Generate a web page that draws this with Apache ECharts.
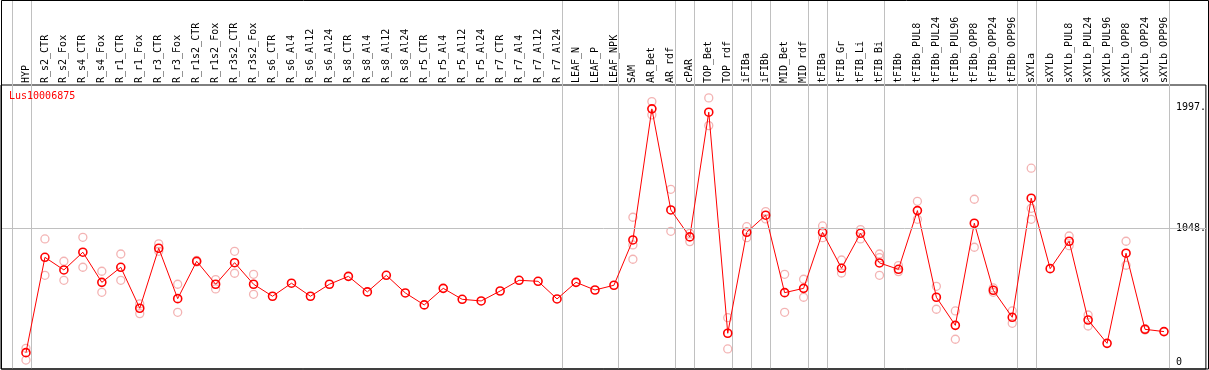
<!DOCTYPE html>
<html>
<head>
<meta charset="utf-8">
<script src="https://cdn.jsdelivr.net/npm/echarts@6/dist/echarts.min.js"></script>
<style>
html,body{margin:0;padding:0;background:#fff;}
#chart{width:1209px;height:370px;}
</style>
</head>
<body>
<div id="chart"></div>
<script>
const geneName = 'Lus10006875';
const categories = ['HYP','R_s2_CTR','R_s2_Fox','R_s4_CTR','R_s4_Fox','R_r1_CTR','R_r1_Fox','R_r3_CTR','R_r3_Fox','R_r1s2_CTR','R_r1s2_Fox','R_r3s2_CTR','R_r3s2_Fox','R_s6_CTR','R_s6_Al4','R_s6_Al12','R_s6_Al24','R_s8_CTR','R_s8_Al4','R_s8_Al12','R_s8_Al24','R_r5_CTR','R_r5_Al4','R_r5_Al12','R_r5_Al24','R_r7_CTR','R_r7_Al4','R_r7_Al12','R_r7_Al24','LEAF_N','LEAF_P','LEAF_NPK','SAM','AR_Bet','AR_rdf','cPAR','TOP_Bet','TOP_rdf','iFIBa','iFIBb','MID_Bet','MID_rdf','tFIBa','tFIB_Gr','tFIB_Li','tFIB_Bi','tFIBb','tFIBb_PUL8','tFIBb_PUL24','tFIBb_PUL96','tFIBb_OPP8','tFIBb_OPP24','tFIBb_OPP96','sXYLa','sXYLb','sXYLb_PUL8','sXYLb_PUL24','sXYLb_PUL96','sXYLb_OPP8','sXYLb_OPP24','sXYLb_OPP96'];
const meanValues = [73,820,721,860,624,742,421,891,496,789,609,778,609,515,617,515,609,671,549,679,541,447,577,491,478,556,640,632,494,624,564,601,956,1983,1191,980,1957,225,1016,1150,543,577,1016,734,1008,776,726,1186,507,287,1087,562,350,1283,731,946,329,146,852,256,238];
const rep1 = [107,964,789,977,711,846,455,925,609,795,645,867,687,null,null,null,null,null,null,null,null,null,null,null,null,null,null,null,null,null,null,null,1134,2040,1353,1008,2069,347,1060,1178,687,648,1066,799,1037,846,755,1259,593,400,1275,580,400,1518,null,987,368,null,946,262,null];
const rep2 = [15,679,640,742,546,640,379,867,389,783,572,695,530,null,null,null,null,null,null,null,null,null,null,null,null,null,null,null,null,null,null,null,805,1936,1024,943,1852,102,974,1121,389,507,974,697,964,679,708,1118,413,178,899,546,303,1204,null,911,282,null,758,250,null];
const rep3 = [null,null,null,null,null,null,null,null,null,null,null,null,null,null,null,null,null,null,null,null,null,null,null,null,null,null,null,null,null,null,null,null,917,null,null,null,null,null,null,null,null,null,null,null,null,817,null,null,null,null,null,null,null,1118,null,null,null,null,null,null,null];
const groupEnds = [-1,0,28,31,34,35,37,38,39,41,42,45,52,53,60];
const yTickValues = [0,1048,1997];
const yTickLabels = ['0','1048.','1997.'];
const gridLineValue = 1048;

const sepOffset = 0.24;
const FONT = 'DejaVu Sans Mono';
const chart = echarts.init(document.getElementById('chart'));

function pts(arr){ const out=[]; arr.forEach((v,i)=>{ if(v!==null) out.push([i,v]); }); return out; }
const repPoints = pts(rep1).concat(pts(rep2), pts(rep3));

chart.setOption({
  animation:false,
  backgroundColor:'#fff',
  title:{text:geneName,left:9,top:91,padding:0,textStyle:{color:'#ff0000',fontSize:10,fontWeight:'normal',fontFamily:FONT}},
  graphic:[{type:'rect',shape:{x:1.5,y:0.5,width:1207,height:368.5},style:{fill:'none',stroke:'#000',lineWidth:1},z:100,silent:true}],
  grid:{left:1,right:1,top:85,bottom:1,show:true,borderColor:'#000',borderWidth:1,backgroundColor:'transparent'},
  xAxis:{type:'value',position:'top',min:-1.3158,max:62.21,
    axisLine:{show:false},axisTick:{show:false},splitLine:{show:false},
    axisLabel:{customValues:categories.map((c,i)=>i),formatter:v=>categories[Math.round(v)],rotate:90,margin:2,
      fontFamily:FONT,fontSize:10,color:'#000'}},
  yAxis:{type:'value',position:'right',min:-55,max:2170,
    axisLine:{show:false},axisTick:{show:false},splitLine:{show:false},
    axisLabel:{inside:true,customValues:yTickValues,formatter:v=>yTickLabels[yTickValues.indexOf(v)],
      align:'left',margin:30,fontFamily:FONT,fontSize:10,color:'#000'}},
  series:[
    {type:'custom',silent:true,clip:false,z:1,
      data:groupEnds.map(k=>[k+sepOffset,0]),
      encode:{x:0,y:1},
      renderItem:function(params,api){
        const x = Math.round(api.coord([api.value(0),0])[0])+0.5;
        return {type:'line',shape:{x1:x,y1:0,x2:x,y2:params.coordSys.y+params.coordSys.height},
          style:{stroke:'#c0c0c0',lineWidth:1}};
      }},
    {type:'scatter',z:2,silent:true,data:repPoints,symbol:'circle',symbolSize:8,
      itemStyle:{color:'transparent',borderColor:'#f0a0a0',borderWidth:1.3}},
    {type:'line',z:3,silent:true,data:meanValues.map((v,i)=>[i,v]),symbol:'circle',symbolSize:8,showSymbol:true,
      lineStyle:{color:'#ff0000',width:1},
      itemStyle:{color:'transparent',borderColor:'#ff0000',borderWidth:1.6},
      markLine:{silent:true,symbol:'none',label:{show:false},lineStyle:{color:'#c0c0c0',width:1,type:'solid'},
        data:[{yAxis:gridLineValue}]}}
  ]
});
</script>
</body>
</html>
